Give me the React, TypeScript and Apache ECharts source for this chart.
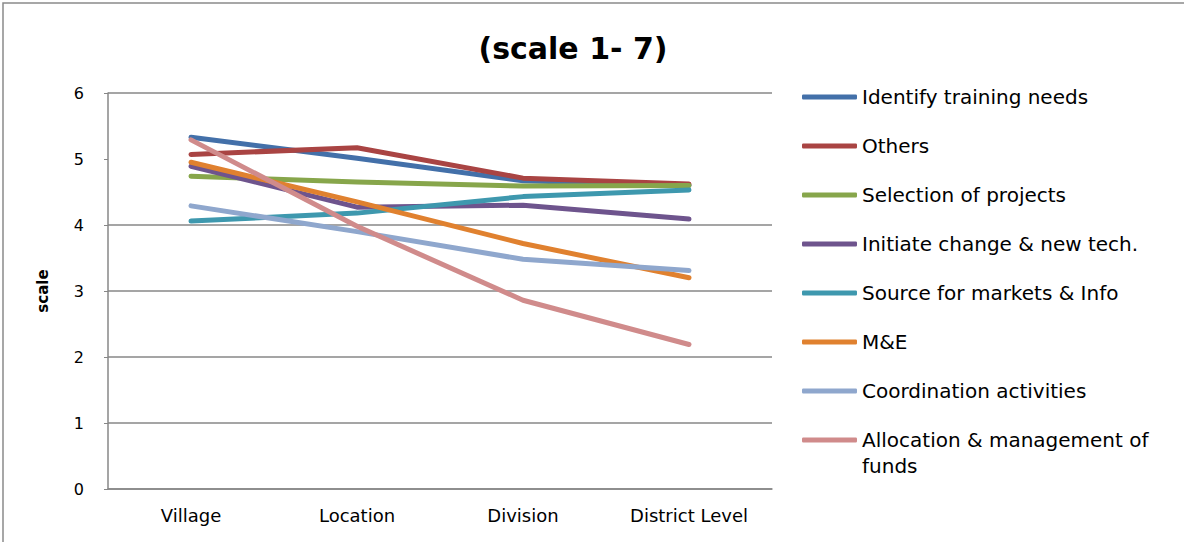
import React, { useEffect, useRef } from "react";
import * as echarts from "echarts";

// Levels on the x axis
const categories = ["Village", "Location", "Division", "District Level"];

// Mean ratings per level
const identifyTraining = [5.33, 5.01, 4.67, 4.6];
const others = [5.07, 5.17, 4.71, 4.62];
const selectionProjects = [4.74, 4.65, 4.59, 4.6];
const initiateChange = [4.89, 4.27, 4.3, 4.09];
const sourceMarkets = [4.06, 4.18, 4.43, 4.53];
const monitoringEval = [4.95, 4.35, 3.72, 3.2];
const coordination = [4.29, 3.9, 3.48, 3.31];
const allocationFunds = [5.29, 3.98, 2.86, 2.19];

const seriesNames = [
  "Identify training needs",
  "Others",
  "Selection of projects",
  "Initiate change & new tech.",
  "Source for markets & Info",
  "M&E",
  "Coordination activities",
  "Allocation & management of funds",
];
const seriesData = [
  identifyTraining,
  others,
  selectionProjects,
  initiateChange,
  sourceMarkets,
  monitoringEval,
  coordination,
  allocationFunds,
];
const colors = [
  "#4370a9",
  "#a94443",
  "#87a64b",
  "#6e548d",
  "#3e98ae",
  "#e0812f",
  "#8fa7cd",
  "#d08b8b",
];

const yTicks = [0, 1, 2, 3, 4, 5, 6];

// The long legend entry is split over two lines: the first line sits
// beside the legend swatch, the remainder is placed underneath it.
const wrappedName = "Allocation & management of funds";
const wrappedFirst = "Allocation & management of";
const wrappedRest = "funds";

const FONT = "'DejaVu Sans', 'Noto Sans', sans-serif";
const GRID = "#878787";
const LEGEND_LEFT = 802;
const LEGEND_TOP = 85;
const LEGEND_LINE = 24;
const LEGEND_GAP = 25;
const ICON_W = 55;

export default function App() {
  const ref = useRef<HTMLDivElement>(null);

  useEffect(() => {
    document.body.style.margin = "0";
    if (!ref.current) return;
    const chart = echarts.init(ref.current, undefined, { renderer: "svg" });

    const lastIndex = seriesNames.length - 1;
    const lastCenterY =
      LEGEND_TOP + lastIndex * (LEGEND_LINE + LEGEND_GAP) + LEGEND_LINE / 2;

    chart.setOption({
      animation: false,
      backgroundColor: "#ffffff",
      color: colors,
      title: {
        text: "(scale 1- 7)",
        left: 568,
        top: 28,
        textAlign: "center",
        textStyle: {
          fontFamily: FONT,
          fontWeight: "bold",
          fontSize: 30,
          color: "#000000",
        },
      },
      graphic: [
        {
          type: "rect",
          shape: { x: 3, y: 3, width: 1200, height: 560 },
          style: { fill: "none", stroke: "#8a8a8a", lineWidth: 1.5 },
          silent: true,
        },
        {
          type: "text",
          x: LEGEND_LEFT + ICON_W + 5,
          y: lastCenterY + LEGEND_LINE + 2,
          silent: true,
          style: {
            text: wrappedRest,
            fontFamily: FONT,
            fontSize: 20,
            fill: "#000000",
            verticalAlign: "middle",
          },
        },
      ],
      grid: { left: 108, right: 412, top: 93, bottom: 53, containLabel: false },
      legend: {
        orient: "vertical",
        left: LEGEND_LEFT,
        top: LEGEND_TOP,
        padding: 0,
        itemWidth: ICON_W,
        itemHeight: 5,
        itemGap: LEGEND_GAP,
        icon: "roundRect",
        data: seriesNames,
        formatter: (name: string) => (name === wrappedName ? wrappedFirst : name),
        textStyle: {
          fontFamily: FONT,
          fontSize: 20,
          lineHeight: LEGEND_LINE,
          color: "#000000",
        },
      },
      xAxis: {
        type: "category",
        data: categories,
        boundaryGap: true,
        axisLine: { lineStyle: { color: GRID, width: 1.5 } },
        axisTick: { show: false },
        axisLabel: {
          fontFamily: FONT,
          fontSize: 18,
          color: "#000000",
          margin: 17,
        },
      },
      yAxis: {
        type: "value",
        min: yTicks[0],
        max: yTicks[yTicks.length - 1],
        interval: 1,
        name: "scale",
        nameLocation: "middle",
        nameGap: 58,
        nameTextStyle: {
          fontFamily: FONT,
          fontWeight: "bold",
          fontSize: 15,
          color: "#000000",
        },
        axisLine: { show: true, lineStyle: { color: GRID, width: 1.5 } },
        axisTick: { show: true, length: 4, lineStyle: { color: GRID } },
        axisLabel: {
          fontFamily: FONT,
          fontSize: 16,
          color: "#000000",
          margin: 24,
        },
        splitLine: {
          show: true,
          lineStyle: {
            color: [GRID, GRID, GRID, GRID, GRID, "rgba(0,0,0,0)", GRID],
            width: 1.5,
          },
        },
      },
      series: seriesNames.map((name, i) => ({
        name,
        type: "line",
        data: seriesData[i],
        showSymbol: false,
        symbol: "none",
        lineStyle: { width: 5, cap: "round", join: "round", color: colors[i] },
        itemStyle: { color: colors[i] },
      })),
    });

    return () => chart.dispose();
  }, []);

  return <div ref={ref} style={{ width: 1184, height: 542 }} />;
}
